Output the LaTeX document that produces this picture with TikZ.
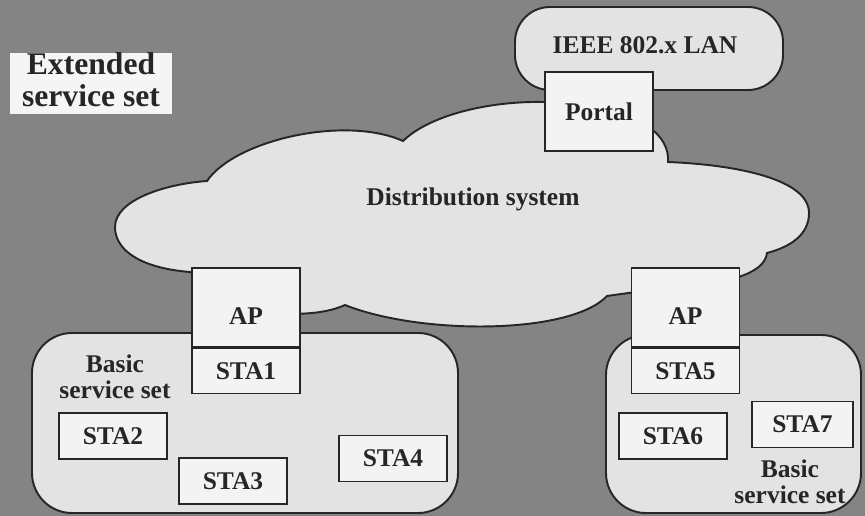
\documentclass[tikz,border=0pt]{standalone}
\usepackage{fontspec}
\setmainfont{Liberation Serif}

\begin{document}
\begin{tikzpicture}[x=0.02cm, y=-0.02cm,
    lbl/.style={font=\bfseries\fontsize{14.5}{14.5}\selectfont, text=ink, align=center},
    stabox/.style={lbl, draw=ink, line width=0.9pt, fill=box_white, minimum width=2.16cm, minimum height=0.92cm, inner sep=0pt},
    apbox/.style={stabox, minimum height=1.58cm, text height=0.7cm, text depth=0pt},
    area/.style={draw=ink, line width=1.1pt, fill=area_gray}]
    \definecolor{bg_gray}{HTML}{848484}
    \definecolor{area_gray}{HTML}{E3E3E3}
    \definecolor{box_white}{HTML}{F3F3F3}
    \definecolor{ink}{HTML}{262626}
    % \draw[help lines, step=50] (0,0) grid (865,516);
    \useasboundingbox (0,0) rectangle (865,516);
    \path[fill=bg_gray] (0,0) rectangle (865,516);
    \path[fill=white!96!black] (10,53) rectangle (172,114);
    \node[lbl, font=\bfseries\fontsize{18}{18}\selectfont] (ess) at (91,80) {Extended\\service set};

    % LAN and distribution system
    \path[area, rounded corners=0.7cm] (515,7) rectangle (783,90);
    \node[lbl] (lan) at (645,45) {IEEE 802.x LAN};
    \path[area] (115,227) .. controls (115,200) and (165,184) .. (207,181)
        .. controls (235,140) and (345,115) .. (403,141)
        .. controls (440,105) and (540,92) .. (600,110)
        .. controls (640,115) and (670,135) .. (668,162)
        .. controls (740,165) and (809,180) .. (809,213)
        .. controls (809,235) and (790,247) .. (767,253)
        .. controls (765,270) and (740,280) .. (700,285)
        .. controls (650,290) .. (607,296)
        .. controls (570,335) and (420,335) .. (345,305)
        .. controls (330,312) and (300,318) .. (250,310)
        .. controls (210,300) and (200,275) .. (190,272)
        .. controls (140,268) and (115,250) .. (115,227) -- cycle;
    \node[lbl] (ds) at (473,199) {Distribution system};

    % basic service sets
    \path[area, rounded corners=0.8cm] (32,333) rectangle (458,513);
    \path[area, rounded corners=0.8cm] (606,335) rectangle (861,513);
    \node[lbl] (bss1) at (115,377) {Basic\\service set};
    \node[lbl] (bss2) at (790,482) {Basic\\service set};

    % portal, access points and stations
    \node[stabox, minimum height=1.58cm] (portal) at (599,111.5) {Portal};
    \node[apbox] (ap1) at (246,307.5) {AP};
    \node[stabox, minimum height=0.9cm, anchor=north] (sta1) at (ap1.south) {STA1};
    \node[apbox] (ap2) at (685.5,307.5) {AP};
    \node[stabox, minimum height=0.9cm, anchor=north] (sta5) at (ap2.south) {STA5};
    \node[stabox] (sta2) at (113,436) {STA2};
    \node[stabox] (sta3) at (233,481) {STA3};
    \node[stabox] (sta4) at (393,458.5) {STA4};
    \node[stabox] (sta6) at (673,436) {STA6};
    \node[stabox, minimum width=2.02cm] (sta7) at (802.5,424.5) {STA7};
\end{tikzpicture}
\end{document}
